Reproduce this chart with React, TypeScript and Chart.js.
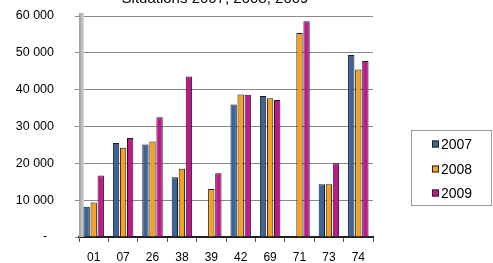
import React, { useEffect, useRef } from "react";
import { Chart, registerables } from "chart.js";

Chart.register(...registerables);

const categories = ["01", "07", "26", "38", "39", "42", "69", "71", "73", "74"];
const series2007 = [8200, 25500, 25100, 16200, null, 36000, 38300, null, 14300, 49400];
const series2008 = [9400, 24200, 25900, 18500, 13000, 38700, 37700, 55400, 14300, 45500];
const series2009 = [16700, 26900, 32500, 43600, 17300, 38600, 37200, 58600, 20000, 47800];
const seriesNames = ["2007", "2008", "2009"];
const seriesColors = ["#3C6496", "#F5A020", "#C0188C"];
const titleText = "Situations 2007, 2008, 2009";

const FONT = '"Liberation Sans", Arial, sans-serif';

const fmt = (v: number) =>
  v === 0 ? "-  " : String(v).replace(/\B(?=(\d{3})+(?!\d))/g, " ");

const decorPlugin = {
  id: "decor",
  beforeDatasetsDraw(chart: any) {
    const { ctx, chartArea } = chart;
    ctx.save();
    const g = ctx.createLinearGradient(chartArea.left, 0, chartArea.left + 5, 0);
    g.addColorStop(0, "#9a9a9a");
    g.addColorStop(1, "#d8d8d8");
    ctx.fillStyle = g;
    ctx.fillRect(chartArea.left, chartArea.top - 3, 5, chartArea.bottom - chartArea.top + 3);
    ctx.restore();
  },
  afterDraw(chart: any) {
    const { ctx } = chart;
    ctx.save();
    ctx.fillStyle = "#000";
    ctx.font = `15px ${FONT}`;
    ctx.textAlign = "center";
    ctx.textBaseline = "alphabetic";
    ctx.fillText(titleText, 215, 3);
    const bx = 411, by = 130, bw = 80, bh = 75;
    ctx.strokeStyle = "#9a9a9a";
    ctx.lineWidth = 1;
    ctx.strokeRect(bx + 0.5, by + 0.5, bw, bh);
    const ys = [144, 169, 193];
    ctx.font = `14px ${FONT}`;
    ctx.textAlign = "left";
    ctx.textBaseline = "middle";
    seriesNames.forEach((name, i) => {
      ctx.fillStyle = seriesColors[i];
      ctx.fillRect(432, ys[i] - 3.5, 7, 7);
      ctx.strokeStyle = "#222";
      ctx.strokeRect(432.5, ys[i] - 3, 6, 6);
      ctx.fillStyle = "#000";
      ctx.fillText(name, 441, ys[i] + 1);
    });
    ctx.restore();
  },
};

export default function App() {
  const ref = useRef<HTMLCanvasElement | null>(null);
  useEffect(() => {
    if (!ref.current) return;
    const data = [series2007, series2008, series2009];
    const chart = new Chart(ref.current, {
      type: "bar",
      data: {
        labels: categories,
        datasets: seriesNames.map((n, i) => ({
          label: n,
          data: data[i] as any,
          backgroundColor: seriesColors[i],
          borderColor: "#1a1a1a",
          borderWidth: 1,
          categoryPercentage: 0.72,
          barPercentage: 0.9,
        })),
      },
      options: {
        animation: false,
        responsive: false,
        maintainAspectRatio: false,
        layout: { padding: { top: 16, right: 120, left: 0, bottom: 0 } },
        plugins: { legend: { display: false }, title: { display: false }, tooltip: { enabled: false } },
        scales: {
          x: {
            afterFit: (s: any) => {
              s.height = 26;
              s.paddingLeft = 0;
              s.paddingRight = 0;
            },
            grid: { drawOnChartArea: false, drawTicks: true, tickLength: 5, color: "#555" },
            border: { color: "#222", width: 2 },
            ticks: { color: "#000", font: { family: FONT, size: 12 }, padding: 8, maxRotation: 0, autoSkip: false },
          },
          y: {
            min: 0,
            max: 60000,
            afterFit: (s: any) => {
              s.width = 79;
              s.paddingTop = 0;
              s.paddingBottom = 0;
            },
            grid: { color: "#8a8a8a", lineWidth: 1, tickLength: 4, drawTicks: true },
            border: { color: "#777", width: 1 },
            ticks: {
              stepSize: 10000,
              color: "#000",
              padding: 21,
              font: { family: FONT, size: 12.5 },
              callback: (v: any) => fmt(Number(v)),
            },
          },
        },
      },
      plugins: [decorPlugin],
    });
    return () => chart.destroy();
  }, []);
  return (
    <div style={{ position: "fixed", left: 0, top: 0, width: 493, height: 263, background: "#fff" }}>
      <canvas ref={ref} width={493} height={263} style={{ width: 493, height: 263, display: "block" }} />
    </div>
  );
}
